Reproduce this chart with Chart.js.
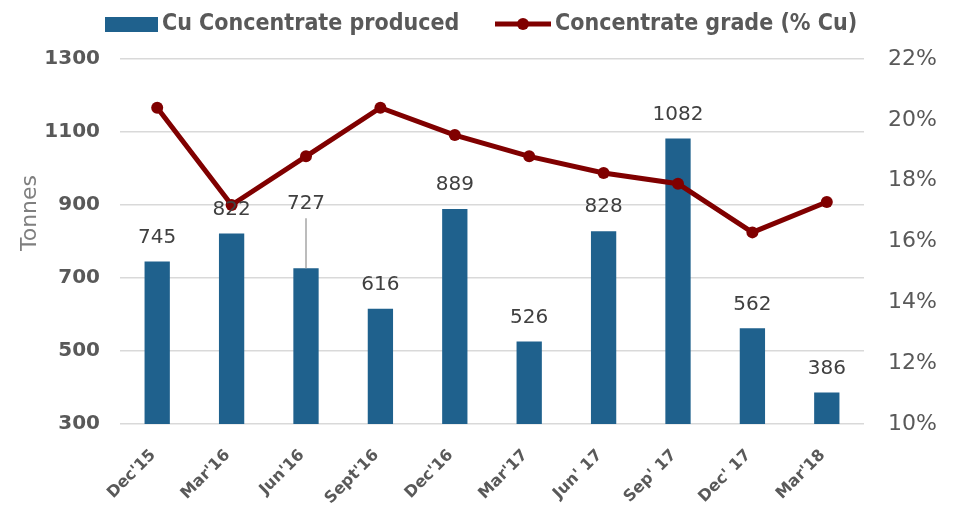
<!DOCTYPE html>
<html>
<head>
<meta charset="utf-8">
<script src="https://cdn.jsdelivr.net/npm/chart.js@4.4.0/dist/chart.umd.min.js"></script>
<style>
  html, body { margin: 0; padding: 0; background: #fff; }
  #wrap { width: 955px; height: 505px; }
</style>
</head>
<body>
<div id="wrap"><canvas id="chart"></canvas></div>
<script>
const quarters = ["Dec'15", "Mar'16", "Jun'16", "Sept'16", "Dec'16", "Mar'17", "Jun' 17", "Sep' 17", "Dec' 17", "Mar'18"];
const tonnes = [745, 822, 727, 616, 889, 526, 828, 1082, 562, 386];
const gradePct = [20.4, 17.2, 18.8, 20.4, 19.5, 18.8, 18.25, 17.9, 16.3, 17.3];
const tonneTicks = [300, 500, 700, 900, 1100, 1300];
const gradeTicks = [10, 12, 14, 16, 18, 20, 22];

const BAR_BLUE = '#1f618d';
const LINE_RED = '#800000';
const TEXT_GREY = '#595959';
const FONT = 'DejaVu Sans';

// value labels above bars; Jun'16 label is lifted with a leader line
const barLabels = {
  id: 'barLabels',
  afterDatasetsDraw(chart) {
    const ctx = chart.ctx;
    const meta = chart.getDatasetMeta(0);
    ctx.save();
    ctx.font = '20px ' + FONT;
    ctx.fillStyle = '#404040';
    ctx.textAlign = 'center';
    ctx.textBaseline = 'middle';
    meta.data.forEach((bar, i) => {
      let y = bar.y - 24;
      if (i === 2) {
        y = bar.y - 64;
        ctx.strokeStyle = '#a6a6a6';
        ctx.lineWidth = 1.5;
        ctx.beginPath();
        ctx.moveTo(bar.x, y + 14);
        ctx.lineTo(bar.x, bar.y);
        ctx.stroke();
      }
      ctx.fillText(String(tonnes[i]), bar.x, y);
    });
    ctx.restore();
  }
};

// legend + rotated axis title drawn by hand to match layout
const extras = {
  id: 'extras',
  afterDraw(chart) {
    const ctx = chart.ctx;
    ctx.save();
    ctx.fillStyle = BAR_BLUE;
    ctx.fillRect(105, 17, 53, 15);
    ctx.font = 'bold 23px "DejaVu Sans Condensed", ' + FONT;
    ctx.fillStyle = TEXT_GREY;
    ctx.textBaseline = 'middle';
    ctx.textAlign = 'left';
    ctx.fillText('Cu Concentrate produced', 162, 24);

    ctx.strokeStyle = LINE_RED;
    ctx.lineWidth = 5;
    ctx.beginPath();
    ctx.moveTo(495, 24);
    ctx.lineTo(551, 24);
    ctx.stroke();
    ctx.fillStyle = LINE_RED;
    ctx.beginPath();
    ctx.arc(523, 24, 6, 0, Math.PI * 2);
    ctx.fill();
    ctx.fillStyle = TEXT_GREY;
    ctx.fillText('Concentrate grade (% Cu)', 555, 24);

    ctx.translate(30, 213);
    ctx.rotate(-Math.PI / 2);
    ctx.textAlign = 'center';
    ctx.font = '22px ' + FONT;
    ctx.fillStyle = '#7f7f7f';
    ctx.fillText('Tonnes', 0, 0);
    ctx.restore();
  }
};

new Chart(document.getElementById('chart'), {
  type: 'bar',
  data: {
    labels: quarters,
    datasets: [
      {
        type: 'bar',
        label: 'Cu Concentrate produced',
        data: tonnes,
        backgroundColor: BAR_BLUE,
        yAxisID: 'y',
        barPercentage: 0.34,
        categoryPercentage: 1,
        order: 1
      },
      {
        type: 'line',
        label: 'Concentrate grade (% Cu)',
        data: gradePct,
        borderColor: LINE_RED,
        backgroundColor: LINE_RED,
        borderWidth: 5,
        pointRadius: 6,
        pointBackgroundColor: LINE_RED,
        pointBorderWidth: 0,
        tension: 0,
        yAxisID: 'y1',
        order: 0
      }
    ]
  },
  options: {
    responsive: true,
    maintainAspectRatio: false,
    animation: false,
    layout: { padding: { top: 59, left: 0, right: 0, bottom: 0 } },
    plugins: {
      legend: { display: false },
      tooltip: { enabled: false }
    },
    scales: {
      x: {
        grid: { display: false },
        border: { display: false },
        ticks: {
          color: TEXT_GREY,
          font: { family: FONT, size: 16, weight: 'bold' },
          minRotation: 45,
          maxRotation: 45,
          padding: 14,
          labelOffset: -4
        },
        afterFit(scale) { scale.height = 81; }
      },
      y: {
        position: 'left',
        min: 300,
        max: 1300,
        afterBuildTicks(scale) { scale.ticks = tonneTicks.map(v => ({ value: v })); },
        grid: { color: '#d9d9d9', lineWidth: 1.5, drawTicks: false },
        border: { display: false },
        ticks: {
          color: TEXT_GREY,
          padding: 20,
          font: { family: FONT, size: 20, weight: 'bold' },
          callback: v => String(v)
        },
        afterFit(scale) { scale.width = 120; }
      },
      y1: {
        position: 'right',
        min: 10,
        max: 22,
        afterBuildTicks(scale) { scale.ticks = gradeTicks.map(v => ({ value: v })); },
        grid: { display: false, drawTicks: false },
        border: { display: false },
        ticks: {
          color: TEXT_GREY,
          padding: 24,
          font: { family: FONT, size: 22 },
          callback: v => v + '%'
        },
        afterFit(scale) { scale.width = 91; }
      }
    }
  },
  plugins: [barLabels, extras]
});
</script>
</body>
</html>
